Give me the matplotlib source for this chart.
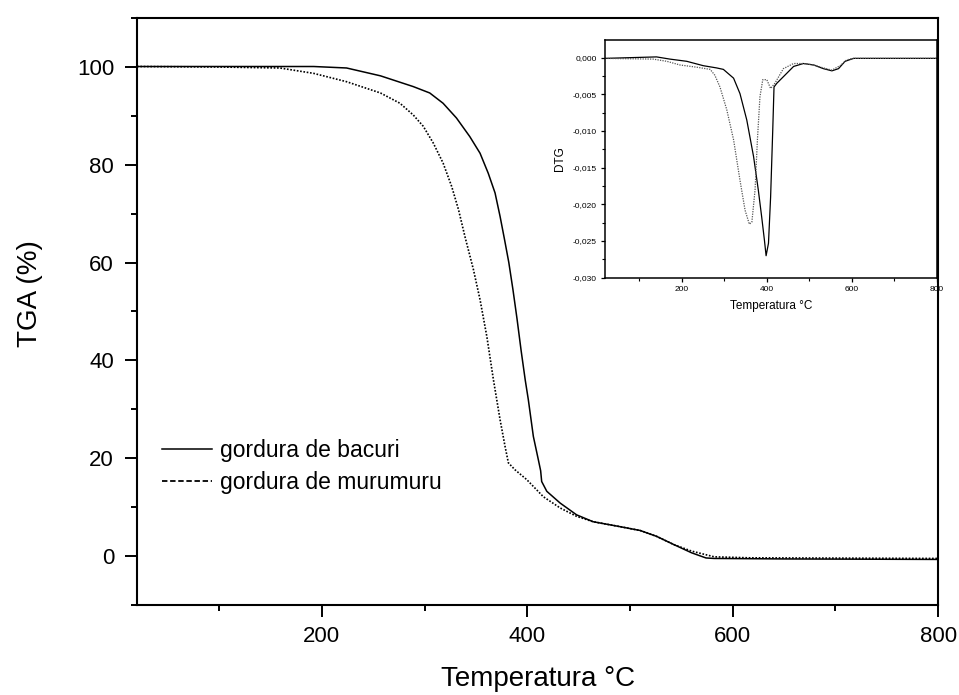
import matplotlib
matplotlib.use("Agg")
import matplotlib.pyplot as plt
from matplotlib.lines import Line2D
from matplotlib.ticker import MultipleLocator, FuncFormatter

plt.rcParams['font.family'] = ['Liberation Sans', 'DejaVu Sans']

# ---------------- data ----------------
series_labels = ["gordura de bacuri", "gordura de murumuru"]

bacuri_T = [20, 100, 159, 192, 224, 257, 289, 305, 318, 331, 344, 354, 362, 368.6, 373.5, 378,
            382, 386, 390, 394, 398, 401, 405.9, 410.8, 413, 414, 419, 432, 448, 464, 490, 510,
            526, 543, 560, 574, 582, 650, 800]
bacuri_tga = [100, 100, 100, 100, 99.7, 98.1, 95.9, 94.6, 92.5, 89.5, 85.7, 82.3, 78.2, 74.2,
              69.4, 64.5, 60.0, 54.5, 48.5, 42.0, 36.0, 32.0, 24.5, 19.7, 17.5, 15.3, 13.3, 10.9,
              8.5, 7.1, 6.1, 5.3, 4.1, 2.4, 0.75, -0.3, -0.4, -0.5, -0.6]

murumuru_T = [20, 100, 159, 192, 224, 257, 276, 289, 298.7, 308.4, 318, 326.4, 333, 339.4,
              347.5, 354, 360.6, 367, 373.5, 378.4, 381.6, 388, 399.4, 415.6, 432, 448, 464,
              490, 510, 526, 543, 560, 582, 616, 800]
murumuru_tga = [100, 99.9, 99.7, 98.6, 96.9, 94.6, 92.5, 90.1, 87.8, 84.4, 80.3, 75.5, 70.8,
                65.2, 58.6, 52.4, 44.9, 36.1, 27.9, 22.4, 19.1, 17.7, 15.7, 12.2, 9.9, 8.2, 7.1,
                6.1, 5.3, 4.1, 2.4, 1.1, -0.07, -0.27, -0.4]

bacuri_dtg_T = [20, 141, 172.5, 212, 251, 282, 298, 322, 337, 353, 369, 380, 388, 394.5, 398.4,
                404, 409, 414, 417, 423.5, 439, 463, 486, 510, 533, 553, 568.6, 584, 604, 800]
bacuri_dtg = [-0.0001, 0.0001, -0.0002, -0.0005, -0.0011, -0.0014, -0.0016, -0.0028, -0.0049,
              -0.0085, -0.0135, -0.018, -0.0217, -0.0249, -0.027, -0.0253, -0.019, -0.0099,
              -0.004, -0.0035, -0.0026, -0.0012, -0.0008, -0.001, -0.0015, -0.0018, -0.0015,
              -0.0005, -0.0001, -0.0001]

murumuru_dtg_T = [20, 133, 165, 196, 235, 267, 278, 290, 306, 322, 337, 349, 359, 365, 372.5,
                  378, 384, 390.6, 400, 409, 419, 439, 463, 486, 510, 533, 553, 572, 588, 604, 800]
murumuru_dtg = [-0.0001, -0.0002, -0.0005, -0.001, -0.0013, -0.0016, -0.0024, -0.004, -0.0071,
                -0.0112, -0.0167, -0.0208, -0.0227, -0.0224, -0.018, -0.0112, -0.0053, -0.003,
                -0.003, -0.0042, -0.0035, -0.0015, -0.0008, -0.0008, -0.001, -0.0014, -0.0017,
                -0.0011, -0.0003, -0.0001, -0.0001]

# ---------------- figure ----------------
fig = plt.figure(figsize=(9.59, 6.95), dpi=100)
ax = fig.add_axes([0.1429, 0.1288, 0.8353, 0.846])

dotted = (0, (1, 1))
ax.plot(bacuri_T, bacuri_tga, color='black', lw=1.1, ls='-')
ax.plot(murumuru_T, murumuru_tga, color='black', lw=1.2, ls=dotted)

ax.set_xlim(20, 800)
ax.set_ylim(-10, 110)
ax.xaxis.set_major_locator(MultipleLocator(200))
ax.xaxis.set_minor_locator(MultipleLocator(100))
ax.yaxis.set_major_locator(MultipleLocator(20))
ax.yaxis.set_minor_locator(MultipleLocator(10))
for s in ax.spines.values():
    s.set_linewidth(1.5)
ax.tick_params(which='major', direction='out', length=8.5, width=1.4, labelsize=16, pad=6)
ax.tick_params(which='minor', direction='out', length=4.5, width=1.4)
ax.tick_params(axis='y', which='major', pad=8)

ax.set_xlabel("Temperatura °C", fontsize=20, labelpad=14)
ax.set_ylabel("TGA (%)", fontsize=20)
ax.yaxis.set_label_coords(-0.118, 0.53)

handles = [Line2D([], [], color='black', lw=1.1, ls='-'),
           Line2D([], [], color='black', lw=1.3, ls=(0, (3, 1.5)))]
ax.legend(handles, series_labels, loc='upper left', bbox_to_anchor=(0.031, 0.283),
          frameon=False, fontsize=16.5, handlelength=2.2, handletextpad=0.35,
          labelspacing=0.38, borderpad=0, borderaxespad=0)

# ---------------- inset ----------------
ins = fig.add_axes([0.6309, 0.6004, 0.3462, 0.342])
ins.plot(bacuri_dtg_T, bacuri_dtg, color='black', lw=0.9, ls='-')
ins.plot(murumuru_dtg_T, murumuru_dtg, color='#555555', lw=0.9, ls=(0, (1, 1)))
ins.set_xlim(20, 800)
ins.set_ylim(-0.030, 0.0024)
ins.xaxis.set_major_locator(MultipleLocator(200))
ins.xaxis.set_minor_locator(MultipleLocator(100))
ins.yaxis.set_major_locator(MultipleLocator(0.005))
ins.yaxis.set_minor_locator(MultipleLocator(0.0025))
ins.yaxis.set_major_formatter(FuncFormatter(lambda v, p: f"{v:.3f}".replace('.', ',').replace('-0,000', '0,000')))
for s in ins.spines.values():
    s.set_linewidth(1.1)
ins.tick_params(which='major', direction='out', length=3, width=0.9, labelsize=6, pad=3)
ins.tick_params(which='minor', direction='out', length=2, width=0.8)
ins.set_xlabel("Temperatura °C", fontsize=8.5, labelpad=5)
ins.set_ylabel("DTG", fontsize=8.5, labelpad=5)

fig.savefig("out.png", dpi=100)
